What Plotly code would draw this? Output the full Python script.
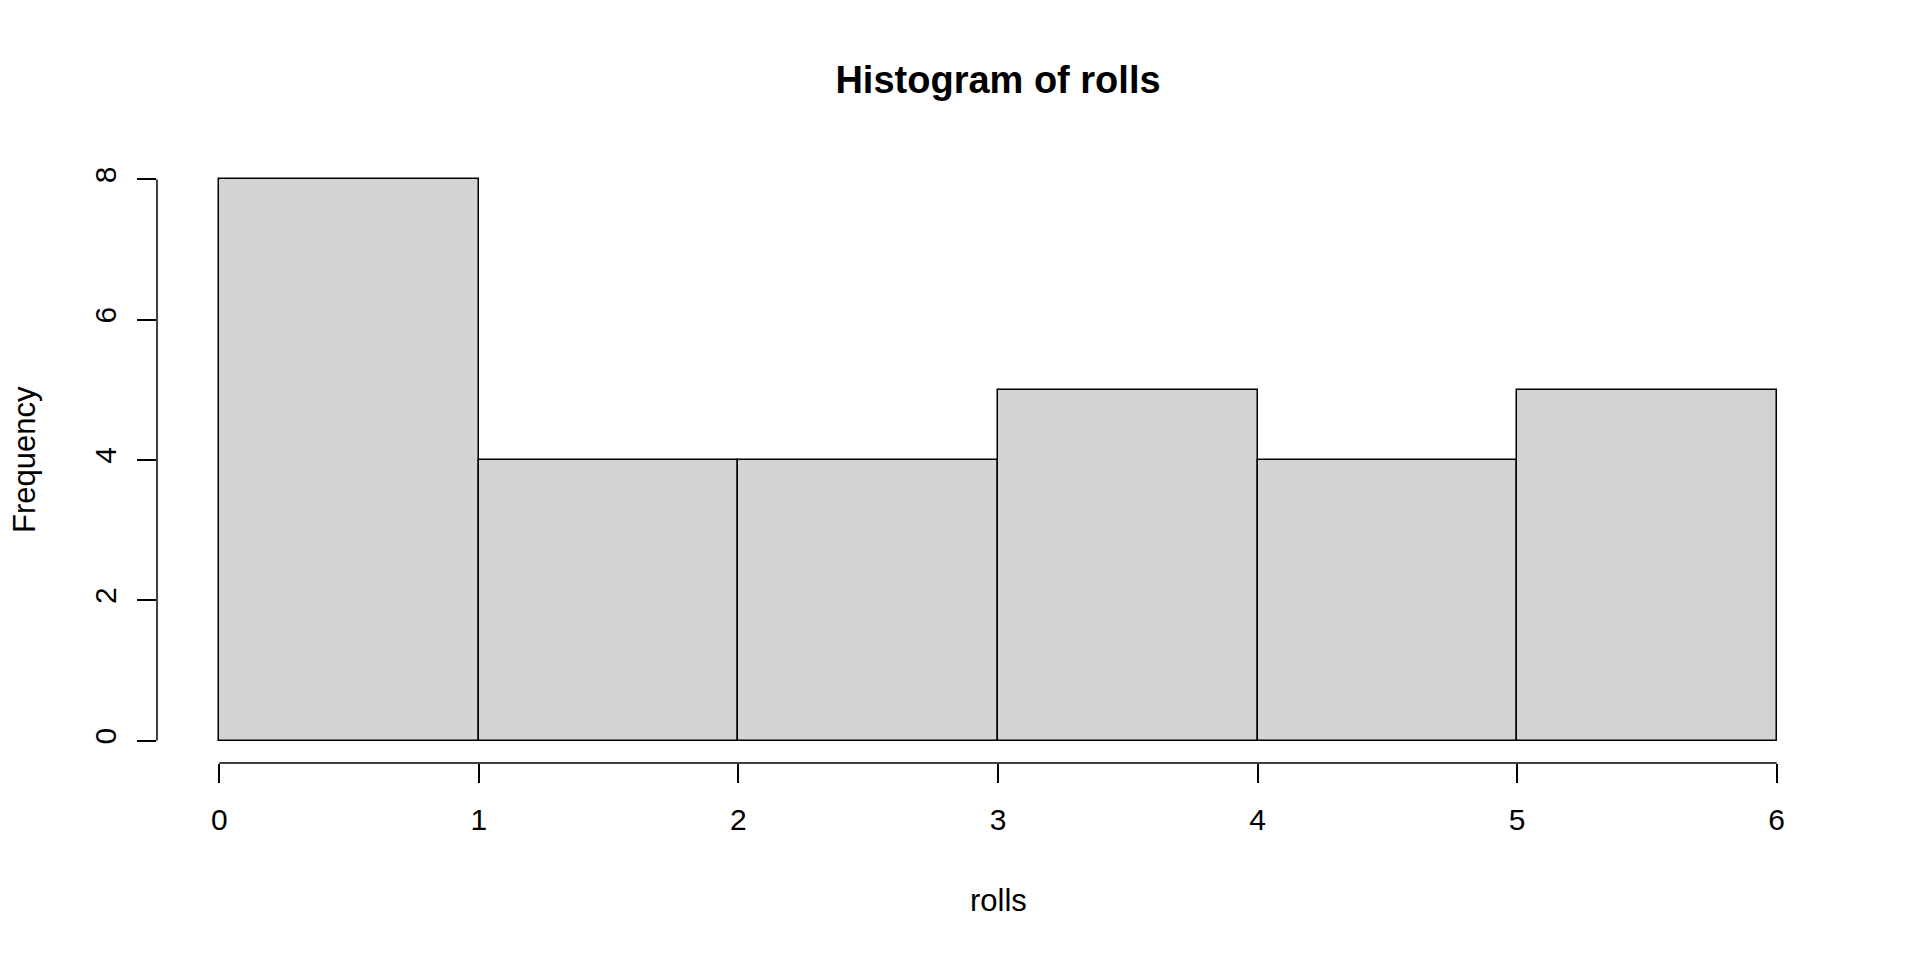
import plotly.graph_objects as go

# Data
bin_edges = [0, 1, 2, 3, 4, 5, 6]
counts = [8, 4, 4, 5, 4, 5]
x_ticks = [0, 1, 2, 3, 4, 5, 6]
y_ticks = [0, 2, 4, 6, 8]
title_text = "Histogram of rolls"
x_label = "rolls"
y_label = "Frequency"

centers = [(a + b) / 2 for a, b in zip(bin_edges[:-1], bin_edges[1:])]
widths = [b - a for a, b in zip(bin_edges[:-1], bin_edges[1:])]

FONT = "Liberation Sans, Arial, sans-serif"
BASE = 30
W, H = 1904, 944
OFF = 8  # page body margin

fig = go.Figure()
fig.add_trace(go.Bar(
    x=centers, y=counts, width=widths,
    marker=dict(color="#D3D3D3", line=dict(color="black", width=1.5)),
    hoverinfo="skip",
))

xmin, xmax = min(bin_edges), max(bin_edges)
ymin, ymax = 0, max(y_ticks)
xpad = 0.04 * (xmax - xmin)
ypad = 0.04 * (ymax - ymin)

L, T = 157 - OFF, 157 - OFF
PW, PH = 1682, 606
R = W - L - PW
B = H - T - PH

fig.update_layout(
    width=W, height=H,
    margin=dict(l=L, r=R, t=T, b=B, pad=0),
    paper_bgcolor="white", plot_bgcolor="white",
    showlegend=False,
    bargap=0,
    font=dict(family=FONT, size=BASE, color="black"),
    title=dict(text="<b>" + title_text + "</b>", x=(998 - OFF) / W, xanchor="center",
               y=1 - (80 - OFF) / H, yanchor="middle", yref="container",
               font=dict(family=FONT, size=38, color="black")),
    xaxis=dict(range=[xmin - xpad, xmax + xpad], tickvals=x_ticks,
               ticktext=[str(v) for v in x_ticks],
               ticks="outside", ticklen=19, tickwidth=1.5, tickcolor="black",
               showline=False, showgrid=False, zeroline=False,
               tickfont=dict(family=FONT, size=BASE, color="black"),
               ticklabelstandoff=11),
    yaxis=dict(range=[ymin - ypad, ymax + ypad], tickvals=y_ticks,
               ticktext=[str(v) for v in y_ticks],
               ticks="outside", ticklen=19, tickwidth=1.5, tickcolor="black",
               tickangle=-90,
               showline=False, showgrid=False, zeroline=False,
               tickfont=dict(family=FONT, size=BASE, color="black"),
               ticklabelstandoff=9),
)

# R-style axis lines spanning only the tick range
fig.add_shape(type="line", xref="x", yref="paper", x0=min(x_ticks), x1=max(x_ticks),
              y0=0, y1=0, line=dict(color="black", width=1.5))
fig.add_shape(type="line", xref="paper", yref="y", x0=0, x1=0,
              y0=min(y_ticks), y1=max(y_ticks), line=dict(color="black", width=1.5))

fig.add_annotation(text=x_label, xref="x", yref="paper", x=(xmin + xmax) / 2, y=0,
                   yshift=-(900 - 763), showarrow=False, yanchor="middle",
                   font=dict(family=FONT, size=31, color="black"))
fig.add_annotation(text=y_label, xref="paper", yref="y", x=0, y=(ymin + ymax) / 2,
                   xshift=-(157 - 24), showarrow=False, xanchor="center",
                   textangle=-90,
                   font=dict(family=FONT, size=31, color="black"))

fig.write_html("out.html")
